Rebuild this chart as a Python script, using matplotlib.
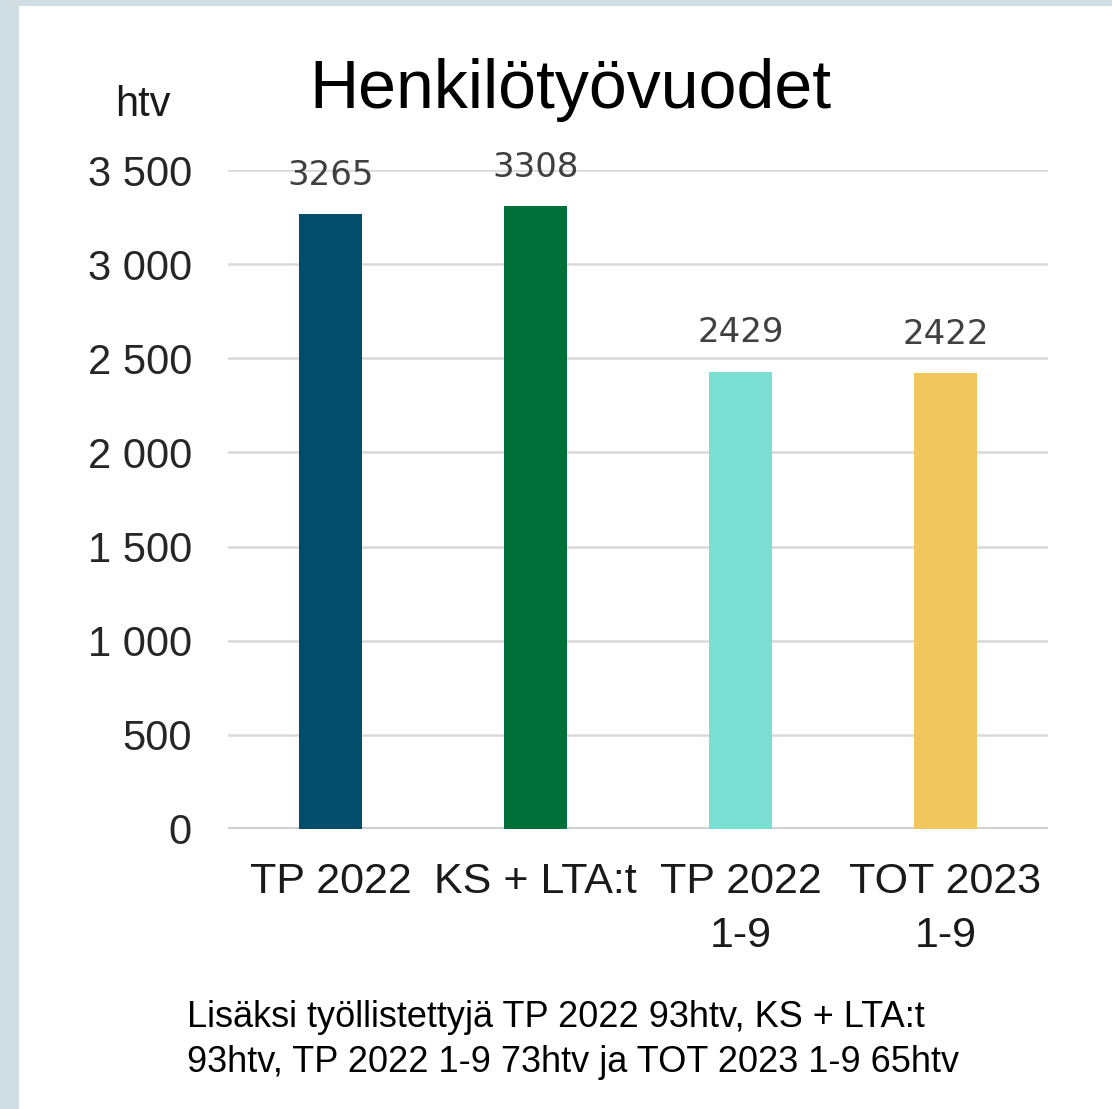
import matplotlib
matplotlib.use("Agg")
import matplotlib.pyplot as plt
from matplotlib.patches import Rectangle

categories = ["TP 2022", "KS + LTA:t", "TP 2022\n1-9", "TOT 2023\n1-9"]
values = [3265, 3308, 2429, 2422]
colors = ["#024D6C", "#00703A", "#7BE0D3", "#F1C65D"]
yticks = [0, 500, 1000, 1500, 2000, 2500, 3000, 3500]
ytick_labels = ["0", "500", "1 000", "1 500", "2 000", "2 500", "3 000", "3 500"]
title = "Henkilötyövuodet"
unit = "htv"
footnote = "Lisäksi työllistettyjä TP 2022 93htv, KS + LTA:t\n93htv, TP 2022 1-9 73htv ja TOT 2023 1-9 65htv"

W, H = 1112, 1109
fig = plt.figure(figsize=(W / 100, H / 100), dpi=100)
fig.patch.set_facecolor("#D0DDE3")
# white panel
fig.add_artist(Rectangle((19 / W, 0), 1 - 19 / W, 1 - 6 / H, transform=fig.transFigure,
                         facecolor="white", edgecolor="none", zorder=0))

font = "Liberation Sans"
ax = fig.add_axes([228 / W, 1 - 829 / H, (1048 - 228) / W, (829 - 170) / H])
ax.set_facecolor("none")
x = list(range(len(categories)))
bars = ax.bar(x, values, width=0.31, color=colors, zorder=3)
ax.set_xlim(-0.5, 3.5)
ax.set_ylim(0, 3500)
ax.set_yticks(yticks)
ax.set_yticklabels(ytick_labels, fontsize=30, fontfamily=font, color="#262626")
ax.set_xticks(x)
ax.set_xticklabels(categories, fontsize=31, fontfamily=font, color="#1a1a1a", linespacing=1.45)
ax.tick_params(axis="y", length=0, pad=26)
ax.tick_params(axis="x", length=0, pad=24)
for s in ax.spines.values():
    s.set_visible(False)
ax.grid(axis="y", color="#D9D9D9", linewidth=1.8, zorder=0)
ax.axhline(0, color="#D0D0D0", linewidth=3, zorder=2)

for xi, v in zip(x, values):
    ax.annotate(str(v), (xi, v), xytext=(0, 21), textcoords="offset points",
                ha="center", va="baseline", fontsize=24.5, fontfamily="DejaVu Sans",
                color="#404040")

fig.text(570 / W, 1 - 90 / H, title, ha="center", va="center", fontsize=49,
         fontfamily=font, color="black")
fig.text(143 / W, 1 - 105 / H, unit, ha="center", va="center", fontsize=30,
         fontfamily=font, color="#1a1a1a")
fig.text(187 / W, 1 - 1040 / H, footnote, ha="left", va="center", fontsize=26,
         fontfamily=font, color="black", linespacing=1.4)

fig.savefig("out.png", dpi=100)
